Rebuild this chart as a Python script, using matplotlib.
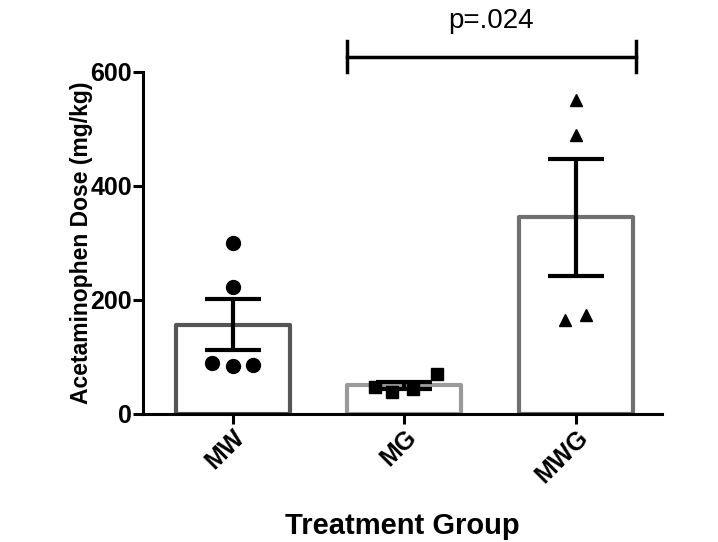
import numpy as np
import matplotlib
matplotlib.use("Agg")
from matplotlib import rcParams

rcParams["font.family"] = "sans-serif"
rcParams["font.sans-serif"] = ["Liberation Sans", "DejaVu Sans"]
import matplotlib.pyplot as plt

groups = ["MW", "MG", "MWG"]
mw_values = [300, 223, 90, 84, 86]
mg_values = [47, 39, 44, 70]
mwg_values = [551, 490, 165, 174]
p_label = "p=.024"

# horizontal jitter of the dots inside each bar
mw_jitter = [0.0, 0.0, -0.12, 0.0, 0.12]
mg_jitter = [-0.17, -0.07, 0.05, 0.19]
mwg_jitter = [0.0, 0.0, -0.065, 0.06]

values = [mw_values, mg_values, mwg_values]
jitters = [mw_jitter, mg_jitter, mwg_jitter]
edge_colors = ["#555555", "#9a9a9a", "#707070"]
markers = ["o", "s", "^"]
marker_sizes = [10, 9, 9]


def main():
    fig = plt.figure(figsize=(7.18, 5.42), dpi=100)
    ax = fig.add_axes([0.1992, 0.2362, 0.7228, 0.631])

    x = np.arange(len(groups))
    means = [np.mean(v) for v in values]
    sems = [np.std(v, ddof=1) / np.sqrt(len(v)) for v in values]

    bars = ax.bar(x, means, width=0.665, facecolor="white", linewidth=3,
                  zorder=1)
    for bar, color in zip(bars, edge_colors):
        bar.set_edgecolor(color)
        bar.set_joinstyle("round")

    for i, (vals, jit) in enumerate(zip(values, jitters)):
        ax.plot(i + np.array(jit), vals, linestyle="none", marker=markers[i],
                markersize=marker_sizes[i], color="black", zorder=3)

    ax.errorbar(x, means, yerr=sems, fmt="none", ecolor="black",
                elinewidth=3, capsize=20, capthick=3, zorder=4)

    # significance bracket between MG and MWG
    y_br = 627
    x0, x1 = 1 - 0.333, 2 + 0.35
    ax.plot([x0, x1], [y_br, y_br], color="black", lw=2.5, clip_on=False)
    ax.plot([x0, x0], [y_br - 27, y_br + 27], color="black", lw=2.5,
            clip_on=False)
    ax.plot([x1, x1], [y_br - 27, y_br + 27], color="black", lw=2.5,
            clip_on=False)
    ax.text((x0 + x1) / 2, 690, p_label, ha="center", va="center",
            fontsize=20, clip_on=False)

    ax.set_xlim(-0.523, 2.503)
    ax.set_ylim(0, 600)
    ax.set_yticks([0, 200, 400, 600])
    ax.set_xticks(x)
    ax.set_xticklabels(groups, rotation=45, ha="right",
                       rotation_mode="anchor", fontweight="bold", fontsize=18)
    for lab in ax.get_yticklabels():
        lab.set_fontweight("bold")
        lab.set_fontsize(18)

    for side in ["top", "right"]:
        ax.spines[side].set_visible(False)
    for side in ["left", "bottom"]:
        ax.spines[side].set_linewidth(2.2)
    ax.tick_params(axis="both", width=2.2, length=7, pad=1)

    ax.set_ylabel("Acetaminophen Dose (mg/kg)", fontweight="bold",
                  fontsize=16.5, va="center")
    ax.yaxis.set_label_coords(-0.118, 0.5)
    ax.set_xlabel("Treatment Group", fontweight="bold", fontsize=21,
                  labelpad=18)

    fig.savefig("out.png", dpi=100)


if __name__ == "__main__":
    main()
